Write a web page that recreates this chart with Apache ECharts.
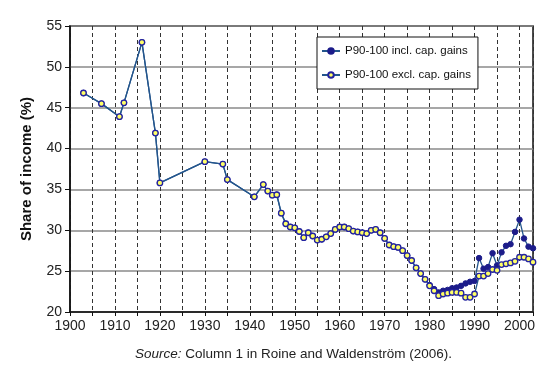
<!DOCTYPE html>
<html>
<head>
<meta charset="utf-8">
<script src="https://cdn.jsdelivr.net/npm/echarts@6/dist/echarts.min.js"></script>
<style>html,body{margin:0;padding:0;background:#fff}#c{width:555px;height:371px}</style>
</head>
<body>
<div id="c"></div>
<script>
var years = [1903,1907,1911,1912,1916,1919,1920,1930,1934,1935,1941,
  1943,1944,1945,1946,1947,1948,1949,1950,1951,1952,1953,1954,1955,1956,1957,1958,1959,
  1960,1961,1962,1963,1964,1965,1966,1967,1968,1969,1970,1971,1972,1973,1974,1975,1976,
  1977,1978,1979,1980,1981,1982,1983,1984,1985,1986,1987,1988,1989,1990,1991,1992,1993,
  1994,1995,1996,1997,1998,1999,2000,2001,2002,2003];
var exclCapGains = [46.8,45.5,43.9,45.6,53.0,41.9,35.8,38.4,38.1,36.2,34.1,
  35.6,34.8,34.3,34.35,32.1,30.8,30.4,30.3,29.85,29.1,29.7,29.3,28.8,28.9,29.2,29.6,30.1,
  30.4,30.4,30.2,29.9,29.8,29.7,29.6,30.0,30.1,29.7,29.0,28.2,28.0,27.9,27.5,26.9,26.3,
  25.4,24.7,24.0,23.2,22.6,22.0,22.2,22.3,22.4,22.4,22.3,21.8,21.8,22.2,24.4,24.4,24.7,
  25.2,25.1,25.8,25.9,26.0,26.2,26.7,26.7,26.5,26.1];
var inclCapGains = [46.8,45.5,43.9,45.6,53.0,41.9,35.8,38.4,38.1,36.2,34.1,
  35.6,34.8,34.3,34.35,32.1,30.8,30.4,30.3,29.85,29.1,29.7,29.3,28.8,28.9,29.2,29.6,30.1,
  30.4,30.4,30.2,29.9,29.8,29.7,29.6,30.0,30.1,29.7,29.0,28.2,28.0,27.9,27.5,26.9,26.3,
  25.4,24.7,24.0,23.3,22.8,22.4,22.6,22.7,22.9,23.0,23.2,23.5,23.7,23.8,26.6,25.3,25.5,
  27.2,25.7,27.3,28.1,28.3,29.8,31.3,29.0,28.0,27.8];
var seriesNames = ['P90-100 incl. cap. gains','P90-100 excl. cap. gains'];
var yTicks = [20,25,30,35,40,45,50,55];

function pairs(v){ return years.map(function(y,i){ return [y, v[i]]; }); }

var FONT = '"Liberation Sans", Arial, sans-serif';
var lineColor = '#23558c';
var chart = echarts.init(document.getElementById('c'), null, {renderer:'canvas'});
chart.setOption({
  animation:false,
  textStyle:{fontFamily:FONT},
  grid:{left:70,right:22,top:26,bottom:59,show:true,borderColor:'#111',borderWidth:1.5,backgroundColor:'transparent'},
  title:{
    text:'{i|Source:} Column 1 in Roine and Waldenström (2006).',
    left:130, top:342,
    textStyle:{fontSize:13.5,fontWeight:'normal',color:'#222',fontFamily:FONT,
      rich:{i:{fontStyle:'italic',fontSize:13.5,color:'#222',fontFamily:FONT}}}
  },
  legend:{
    orient:'vertical', left:317, top:37,
    backgroundColor:'#fff', borderColor:'#111', borderWidth:1,
    padding:[8,7,8,4], itemGap:12, itemWidth:18, itemHeight:7,
    textStyle:{fontSize:11.5,color:'#111',fontFamily:FONT},
    data:seriesNames
  },
  xAxis:{
    type:'value', min:1900, max:2003, interval:5,
    axisLine:{lineStyle:{color:'#111',width:1.5}},
    axisTick:{show:true,length:4,lineStyle:{color:'#111'}},
    axisLabel:{fontSize:14,color:'#222',margin:7,fontFamily:FONT,
      formatter:function(v){ return v%10===0 ? String(v) : ''; }},
    splitLine:{show:true,lineStyle:{color:'#333',type:[4,3],width:1}}
  },
  yAxis:{
    type:'value', min:yTicks[0], max:yTicks[yTicks.length-1], interval:5,
    name:'Share of income (%)', nameLocation:'middle', nameGap:36,
    nameTextStyle:{fontSize:15,fontWeight:'bold',color:'#111',fontFamily:FONT},
    axisLine:{show:true,lineStyle:{color:'#111',width:1.5}},
    axisTick:{show:true,length:5,lineStyle:{color:'#111'}},
    axisLabel:{fontSize:14,color:'#222',margin:8,fontFamily:FONT},
    splitLine:{show:true,lineStyle:{color:'#8a8a8a',width:1.5}}
  },
  series:[
    {name:seriesNames[0], type:'line', data:pairs(inclCapGains), symbol:'circle', symbolSize:5.5,
     lineStyle:{color:lineColor,width:1.3}, itemStyle:{color:'#1c1c8a',borderColor:'#1c1c8a',borderWidth:1}, z:2},
    {name:seriesNames[1], type:'line', data:pairs(exclCapGains), symbol:'circle', symbolSize:5.5,
     lineStyle:{color:lineColor,width:1.3}, itemStyle:{color:'#ffff66',borderColor:'#2323a0',borderWidth:1.3}, z:3}
  ]
});
</script>
</body>
</html>
